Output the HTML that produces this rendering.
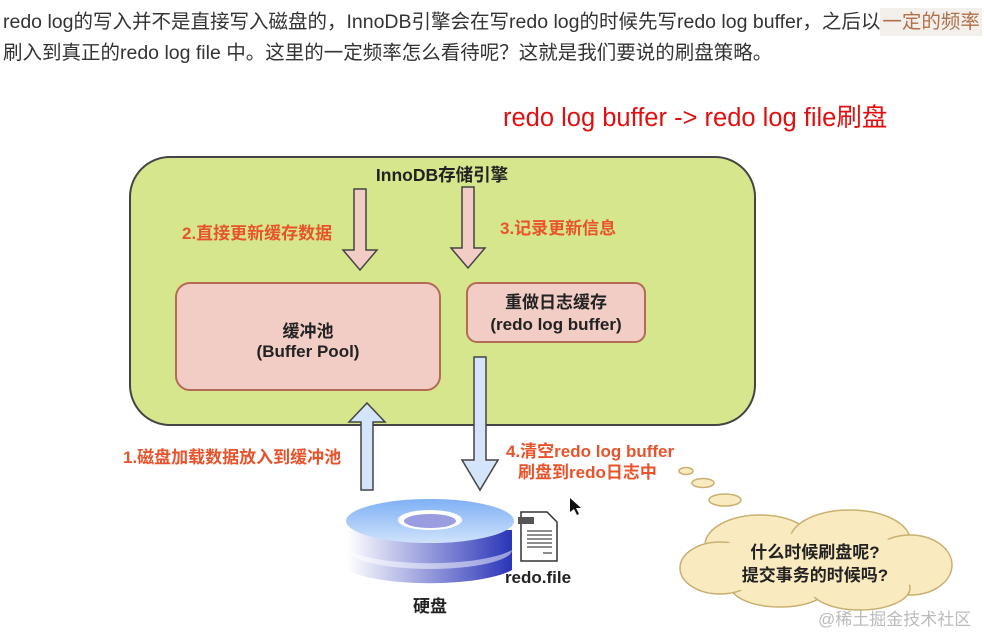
<!DOCTYPE html>
<html><head><meta charset="utf-8"><style>
body{margin:0;width:984px;height:635px;background:#fff;overflow:hidden;position:relative;font-family:"Liberation Sans","Noto Sans CJK SC",sans-serif}
.t{position:absolute;left:3px;font-size:19.5px;color:#333;white-space:nowrap;line-height:24px}
</style></head><body>
<div class="t" style="top:10px">redo log的写入并不是直接写入磁盘的，InnoDB引擎会在写redo log的时候先写redo log buffer，之后以<span style="background:#f3f0ec;color:#b0704a;padding:3px 2px">一定的频率</span></div>
<div class="t" style="top:41px">刷入到真正的redo log file 中。这里的一定频率怎么看待呢？这就是我们要说的刷盘策略。</div>
<svg width="984" height="635" style="position:absolute;left:0;top:0" font-family="Liberation Sans,Noto Sans CJK SC,sans-serif">
<defs>
<linearGradient id="dt" x1="0" y1="0" x2="0" y2="1"><stop offset="0" stop-color="#7fb0f5"/><stop offset="1" stop-color="#cfe2fb"/></linearGradient>
<linearGradient id="ds" x1="0" y1="0" x2="1" y2="0"><stop offset="0" stop-color="#ffffff"/><stop offset="1" stop-color="#2a35b8"/></linearGradient>
</defs>
<text x="503" y="126" font-size="25.5" fill="#e01010">redo log buffer -&gt; redo log file刷盘</text>
<rect x="130" y="157" width="625" height="268" rx="40" fill="#d6e68d" stroke="#444" stroke-width="2"/>
<text x="442" y="181" font-size="17.5" font-weight="bold" fill="#222" text-anchor="middle">InnoDB存储引擎</text>
<rect x="176" y="283" width="264" height="107" rx="14" fill="#f2cdc6" stroke="#b46a55" stroke-width="2"/>
<text x="308" y="337" font-size="17" font-weight="bold" fill="#222" text-anchor="middle">缓冲池</text>
<text x="308" y="357" font-size="17" font-weight="bold" fill="#222" text-anchor="middle">(Buffer Pool)</text>
<rect x="467" y="283" width="178" height="59" rx="10" fill="#f2cdc6" stroke="#b46a55" stroke-width="2"/>
<text x="556" y="308" font-size="17" font-weight="bold" fill="#222" text-anchor="middle">重做日志缓存</text>
<text x="556" y="330" font-size="17" font-weight="bold" fill="#222" text-anchor="middle">(redo log buffer)</text>
<polygon points="354,189 366,189 366,250 377,250 360,270 343,250 354,250" fill="#f2cdc6" stroke="#444" stroke-width="1.5"/>
<polygon points="462,187 474,187 474,248 485,248 468,268 451,248 462,248" fill="#f2cdc6" stroke="#444" stroke-width="1.5"/>
<text x="182" y="239" font-size="17" font-weight="bold" fill="#e8532b">2.直接更新缓存数据</text>
<text x="500" y="234" font-size="17" font-weight="bold" fill="#e8532b">3.记录更新信息</text>
<polygon points="361,490 373,490 373,422 385,422 367,403 349,422 361,422" fill="#d4e5fb" stroke="#444" stroke-width="1.5"/>
<polygon points="474,357 486,357 486,460 498,460 480,490 462,460 474,460" fill="#d4e5fb" stroke="#444" stroke-width="1.5"/>
<text x="123" y="463" font-size="17" font-weight="bold" fill="#e8532b">1.磁盘加载数据放入到缓冲池</text>
<text x="506" y="457" font-size="17" font-weight="bold" fill="#e8532b">4.清空redo log buffer</text>
<text x="518" y="478" font-size="17" font-weight="bold" fill="#e8532b">刷盘到redo日志中</text>
<path d="M347,548 L347,570 A90,22 0 0 0 512,570 L512,548 Z" fill="url(#ds)"/>
<ellipse cx="430" cy="550" rx="82" ry="19" fill="#fff" opacity="0.5"/>
<path d="M347,530 L347,550 A90,22 0 0 0 512,550 L512,530 Z" fill="url(#ds)"/>
<ellipse cx="430" cy="521" rx="84" ry="22" fill="url(#dt)"/>
<ellipse cx="430" cy="520" rx="32" ry="10" fill="#fff"/>
<ellipse cx="430" cy="521" rx="26" ry="7" fill="#9a9ee0"/>
<text x="430" y="612" font-size="17" font-weight="bold" fill="#222" text-anchor="middle">硬盘</text>
<path d="M521,512 L547,512 L557,522 L557,561 L521,561 Z" fill="#fff" stroke="#333" stroke-width="1.5"/>
<rect x="518" y="517" width="16" height="7" fill="#555"/>
<g stroke="#666" stroke-width="1.5"><line x1="527" y1="531" x2="552" y2="531"/><line x1="527" y1="535" x2="552" y2="535"/><line x1="527" y1="539" x2="552" y2="539"/><line x1="527" y1="543" x2="552" y2="543"/><line x1="527" y1="547" x2="552" y2="547"/><line x1="543" y1="553" x2="552" y2="553"/></g>
<text x="538" y="583" font-size="17" font-weight="bold" fill="#222" text-anchor="middle">redo.file</text>
<polygon points="570,498 570,512 574,509 577,515 579,514 576,508 581,508" fill="#111"/>
<ellipse cx="686" cy="471" rx="7" ry="3.5" fill="#faeac0" stroke="#c8b070" stroke-width="1.5"/>
<ellipse cx="703" cy="483" rx="11" ry="4.5" fill="#faeac0" stroke="#c8b070" stroke-width="1.5"/>
<ellipse cx="725" cy="500" rx="16" ry="6" fill="#faeac0" stroke="#c8b070" stroke-width="1.5"/>
<g fill="#faeac0" stroke="#c8b070" stroke-width="1.5">
<ellipse cx="760" cy="545" rx="55" ry="30"/><ellipse cx="850" cy="540" rx="60" ry="30"/><ellipse cx="910" cy="565" rx="42" ry="30"/>
<ellipse cx="780" cy="585" rx="50" ry="22"/><ellipse cx="860" cy="588" rx="50" ry="22"/><ellipse cx="720" cy="568" rx="40" ry="26"/>
</g>
<ellipse cx="815" cy="565" rx="120" ry="32" fill="#faeac0"/>
<text x="815" y="558" font-size="17" font-weight="bold" fill="#222" text-anchor="middle">什么时候刷盘呢?</text>
<text x="815" y="581" font-size="17" font-weight="bold" fill="#222" text-anchor="middle">提交事务的时候吗?</text>
<text x="818" y="625" font-size="17" fill="#bbb">@稀土掘金技术社区</text>
</svg>
</body></html>
